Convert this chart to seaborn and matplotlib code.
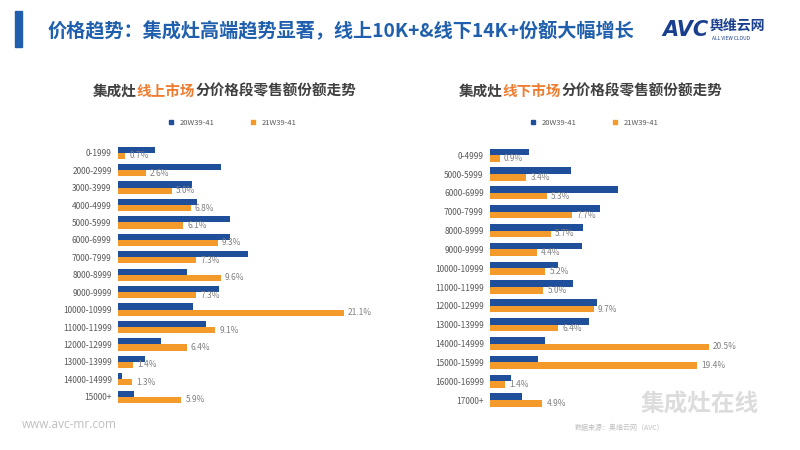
import pandas as pd
import matplotlib.pyplot as plt
import seaborn as sns
from matplotlib.patches import Rectangle
from matplotlib.lines import Line2D

# 线上市场
online_segments = ['0-1999', '2000-2999', '3000-3999', '4000-4999', '5000-5999',
                   '6000-6999', '7000-7999', '8000-8999', '9000-9999', '10000-10999',
                   '11000-11999', '12000-12999', '13000-13999', '14000-14999', '15000+']
online_20 = [3.5, 9.6, 6.9, 7.4, 10.5, 10.5, 12.1, 6.4, 9.4, 7.0, 8.2, 4.0, 2.5, 0.4, 1.5]
online_21 = [0.7, 2.6, 5.0, 6.8, 6.1, 9.3, 7.3, 9.6, 7.3, 21.1, 9.1, 6.4, 1.4, 1.3, 5.9]

# 线下市场
offline_segments = ['0-4999', '5000-5999', '6000-6999', '7000-7999', '8000-8999',
                    '9000-9999', '10000-10999', '11000-11999', '12000-12999', '13000-13999',
                    '14000-14999', '15000-15999', '16000-16999', '17000+']
offline_20 = [3.7, 7.6, 12.0, 10.3, 8.7, 8.6, 6.4, 7.8, 10.0, 9.3, 5.2, 4.5, 2.0, 3.0]
offline_21 = [0.9, 3.4, 5.3, 7.7, 5.7, 4.4, 5.2, 5.0, 9.7, 6.4, 20.5, 19.4, 1.4, 4.9]

periods = ['20W39-41', '21W39-41']

BLUE = '#1f4e9a'
ORANGE = '#f39a2b'
HEAD_BLUE = '#1f5fad'
GRAY = '#595959'

sns.set_style('white')
plt.rcParams['font.family'] = ['Noto Sans CJK SC', 'DejaVu Sans']


def to_long(segments, a, b):
    return pd.DataFrame({
        'segment': segments * 2,
        'share': a + b,
        'period': [periods[0]] * len(segments) + [periods[1]] * len(segments),
    })


def draw_panel(ax, df, xmax):
    sns.barplot(data=df, y='segment', x='share', hue='period', orient='h',
                palette=[BLUE, ORANGE], width=0.7, saturation=1, linewidth=0,
                legend=False, ax=ax)
    ax.set_xlim(0, xmax)
    ax.set_xlabel('')
    ax.set_ylabel('')
    ax.set_xticks([])
    ax.tick_params(axis='y', length=0, pad=4.5, labelsize=6, labelcolor=GRAY)
    sns.despine(ax=ax, left=True, bottom=True)
    orange = ax.containers[1]
    ax.bar_label(orange, labels=[f'{v:.1f}%' for v in orange.datavalues],
                 padding=3, fontsize=6, color='#7f7f7f')


fig = plt.figure(figsize=(8, 4.5), dpi=100)

ax1 = fig.add_axes([0.1475, 0.099, 0.3146, 0.581])
draw_panel(ax1, to_long(online_segments, online_20, online_21), 23.5)

ax2 = fig.add_axes([0.6125, 0.090, 0.3068, 0.586])
draw_panel(ax2, to_long(offline_segments, offline_20, offline_21), 23)

# 页眉
fig.patches.append(Rectangle((15 / 800, 1 - 47 / 450), 7 / 800, 36 / 450,
                             transform=fig.transFigure, color=HEAD_BLUE))
fig.text(48 / 800, 1 - 30 / 450,
         '价格趋势：集成灶高端趋势显著，线上10K+&线下14K+份额大幅增长',
         fontsize=13.8, fontweight='bold', color=HEAD_BLUE, va='center')

# AVC logo
fig.text(662 / 800, 1 - 30 / 450, 'AVC', fontsize=15, fontweight='bold',
         fontstyle='italic', color='#1a3f8f', va='center', family='DejaVu Sans')
fig.text(710 / 800, 1 - 26 / 450, '舆维云网', fontsize=10, fontweight='bold',
         color='#1a3f8f', va='center')
fig.text(712 / 800, 1 - 39 / 450, 'ALL VIEW CLOUD', fontsize=3.5,
         color='#1a3f8f', va='center')


def chain_title(x, y, parts):
    # 分段着色的标题，后一段接在前一段右边
    t = fig.text(x, y, parts[0][0], fontsize=10.5, fontweight='bold',
                 color=parts[0][1], va='center')
    for text, color in parts[1:]:
        t = ax1.annotate(text, xy=(1, 0.5), xycoords=t, va='center', ha='left',
                         fontsize=10.5, fontweight='bold', color=color,
                         annotation_clip=False)
    return t


title_y = 1 - 90.7 / 450
chain_title(93 / 800, title_y, [('集成灶', '#404040'), ('线上市场', '#ee7d31'),
                                ('分价格段零售额份额走势', '#404040')])
chain_title(459 / 800, title_y, [('集成灶', '#404040'), ('线下市场', '#ee7d31'),
                                 ('分价格段零售额份额走势', '#404040')])

# 图例
handles = [Line2D([], [], marker='s', ls='', color=c, markersize=3) for c in (BLUE, ORANGE)]
for cx in (230 / 800, 592 / 800):
    fig.legend(handles, periods, loc='center', bbox_to_anchor=(cx, 1 - 123 / 450),
               ncol=2, frameon=False, fontsize=5.5, handletextpad=0.2,
               columnspacing=4, labelcolor=GRAY)

# 页脚
fig.text(22 / 800, 1 - 425 / 450, 'www.avc-mr.com', fontsize=8.5, color='#bfbfbf',
         va='center', family='Open Sans')
fig.text(575 / 800, 1 - 428 / 450, '数据来源：奥维云网（AVC）', fontsize=5,
         color='#bfbfbf', va='center')
fig.text(700 / 800, 1 - 405 / 450, '集成灶在线', fontsize=17, fontweight='bold',
         color='#d9d9d9', va='center', ha='center', alpha=0.9)

fig.savefig('out.png', dpi=100)
